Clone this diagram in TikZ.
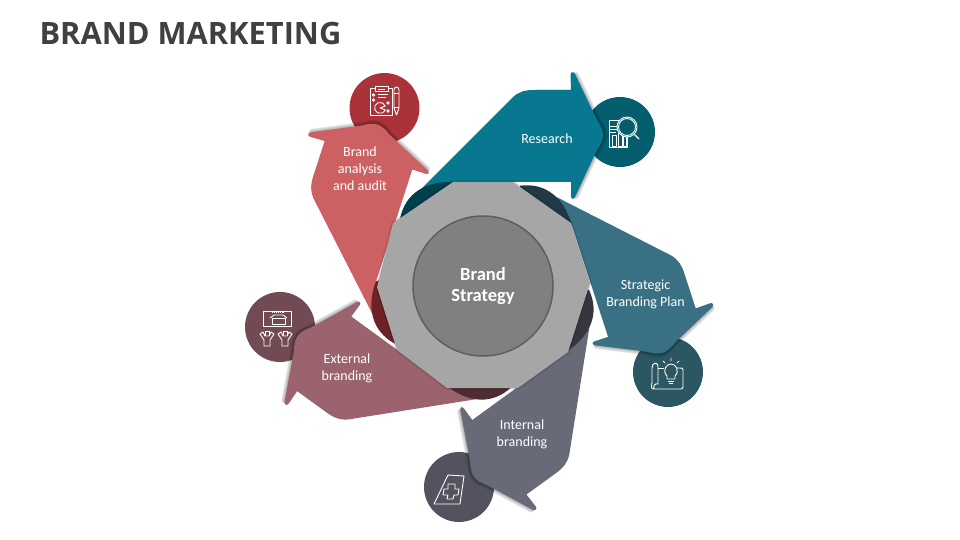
\documentclass[tikz,border=0pt]{standalone}
\usepackage{fontspec}
\setmainfont{Carlito}
\newfontfamily\titlefont{Open Sans}
\usetikzlibrary{calc}

\definecolor{researchC}{HTML}{087891}
\definecolor{researchD}{HTML}{003F4D}
\definecolor{researchI}{HTML}{045E6E}
\definecolor{planC}{HTML}{397084}
\definecolor{planD}{HTML}{1F3A45}
\definecolor{planI}{HTML}{2B5763}
\definecolor{internalC}{HTML}{686A78}
\definecolor{internalD}{HTML}{35363E}
\definecolor{internalI}{HTML}{52535E}
\definecolor{externalC}{HTML}{9A636D}
\definecolor{externalD}{HTML}{4F2C33}
\definecolor{externalI}{HTML}{724A53}
\definecolor{auditC}{HTML}{CD6063}
\definecolor{auditD}{HTML}{6E2228}
\definecolor{auditI}{HTML}{A93339}

\begin{document}
\begin{tikzpicture}[x=1pt,y=-1pt]
\tikzset{
  label/.style={text=white, align=center, font=\fontsize{14}{17}\selectfont},
  disc/.style={circle, minimum size=70pt, inner sep=0pt},
  icon/.style={draw=white, line width=0.9pt, line join=round}
  };

\def\armpath{(422,188) -- (513,97) .. controls (520,91) and (526,90) .. (534,90) -- (571,90)
  -- (570.5,75) .. controls (570.5,72) and (573,71) .. (575,74) -- (597,120)
  .. controls (605,132) and (605,138) .. (597,150) -- (575,197)
  .. controls (573,200) and (571,199) .. (571,196) -- (571,182) -- (453,182) -- cycle}
\def\tailpath{(400,219) .. controls (405,193) and (426,181) .. (453,182) -- (470,200) -- (420,225) -- cycle}
\def\hubpath{(453,182) -- (513,182) -- (571,223) -- (590,283) -- (568,352)
  -- (518,388) -- (447,388) -- (397,350) -- (377,287) -- (393,223) -- cycle}

\useasboundingbox (0,0) rectangle (960,540);

\node[anchor=west, text=black!75, font=\titlefont\bfseries\fontsize{30.8}{36}\selectfont] (title) at (36,34) {BRAND MARKETING};

% discs behind the arms
\node[disc, fill=auditI] (auditdisc) at (384.5,108) {};
\node[disc, fill=researchI] (researchdisc) at (620,132) {};
\node[disc, fill=planI] (plandisc) at (668,372) {};
\node[disc, fill=internalI] (internaldisc) at (459,487) {};
\node[disc, fill=externalI] (externaldisc) at (280,327) {};

% five arms, the shadow turns with each arm
\foreach \i/\armcol/\tailcol in {0/researchC/researchD, 1/planC/planD, 2/internalC/internalD, 3/externalC/externalD, 4/auditC/auditD} {
  \begin{scope}[rotate around={-72*\i:(483,285)}]
    \foreach \d in {1,2,3,4}
      \fill[black, opacity=0.08, shift={(\d,0)}] \armpath;
    \fill[\armcol] \armpath;
    \fill[\tailcol] \tailpath;
  \end{scope}
}

% hub
\foreach \d in {1,2}
  \draw[black, opacity=0.07, line width=2*\d pt, line join=round] \hubpath;
\fill[black!35] \hubpath;
\node[circle, minimum size=140pt, inner sep=0pt, fill=black!50, draw=black!63, line width=1.5pt,
      text=white, align=center, font=\bfseries\fontsize{18.5}{21.5}\selectfont] (core) at (483,286) {\raisebox{-2pt}{Brand}\\\raisebox{-2pt}{Strategy}};

\node[label] (research) at (547,138.6) {Research};
\node[label] (plan) at (645.5,294.5) {Strategic\\Branding Plan};
\node[label] (internal) at (522,434) {Internal\\branding};
\node[label] (external) at (347,368) {External\\branding};
\node[label] (audit) at (360,169) {Brand\\analysis\\and audit};

% icon: audit
\begin{scope}[icon]
\draw (370,88) rectangle (392,115);
\draw[fill=auditI] (375,86) rectangle (388,91);
\draw (378,89) -- (385,89) (378,94.5) -- (388,94.5) (378,97.5) -- (386,97.5);
\draw (373.5,95) circle (1.3) (373.5,100) circle (1.3);
\draw (385.2,106) arc[start angle=20, end angle=340, radius=5.5pt] -- (380,108) -- cycle;
\draw (388,103) circle (1.3) (388,111) circle (1.3);
\draw (394,90) -- (394,108) -- (396.5,115) -- (399,108) -- (399,90) .. controls (399,86) and (394,86) .. (394,90);
\draw (394,93) -- (399,93) (394,107) -- (399,107);
\end{scope}

% icon: research
\begin{scope}[icon]
\draw (609,120) rectangle (627,147);
\draw (610,126) -- (618,126) (610,129) -- (617,129) (610,132) -- (616,132);
\draw (612,135) rectangle (616,146) (618,133) rectangle (622,146) (623,136) rectangle (626,146);
\draw[fill=researchI] (627,127) circle (10);
\draw (627,127) circle (8.5);
\draw[line width=1.2pt] (634.5,134.5) -- (639,139);
\end{scope}

% icon: plan
\begin{scope}[icon]
\draw (654,389) .. controls (650,389) and (652,385) .. (652,382) -- (652,368)
  .. controls (652,362) and (658,362) .. (658,366) -- (658,384) .. controls (655,383) and (653,386) .. (654,389)
  -- (681,389) .. controls (683,389) and (683,388) .. (683,386) -- (683,370) .. controls (683,368) and (682,368) .. (680,368) -- (677,368);
\draw (658,368) -- (664,368);
\draw (667,376) .. controls (662,371) and (666,364) .. (671,364) .. controls (676,364) and (680,371) .. (675,376) -- (675,379) -- (667,379) -- cycle;
\draw (668,381) -- (674,381) (669,383) -- (673,383);
\draw (671,358) -- (671,361) (663,361) -- (665,363) (679,361) -- (677,363);
\end{scope}

% icon: internal
\begin{scope}[icon]
\draw (448,475) -- (464,476) -- (460,504) -- (434,504) -- cycle;
\draw (448,484) -- (455,484) -- (455,489) -- (459,489) -- (458,495) -- (454,495) -- (453,499) -- (447,499)
  -- (448,495) -- (443,495) -- (444,489) -- (448,489) -- cycle;
\end{scope}

% icon: external
\begin{scope}[icon]
\draw (263,311.5) rectangle (291,326);
\draw (272,318) -- (285,318) -- (285,324) -- (272,324) -- cycle;
\draw (270,318) -- (274,315) -- (283,315) -- (287,318);
\draw[densely dotted] (272,312.5) -- (284,312.5);
\foreach \px in {267,285} {
  \draw (\px-7,334) -- (\px-3,340) -- (\px-3,346) -- (\px+3,346) -- (\px+3,340) -- (\px+7,334)
    -- (\px+4,332) -- (\px+2,336) -- (\px-2,336) -- (\px-4,332) -- cycle;
  \draw (\px-2,336) -- (\px-2,331) -- (\px+2,331) -- (\px+2,336);
}
\end{scope}

\end{tikzpicture}
\end{document}
